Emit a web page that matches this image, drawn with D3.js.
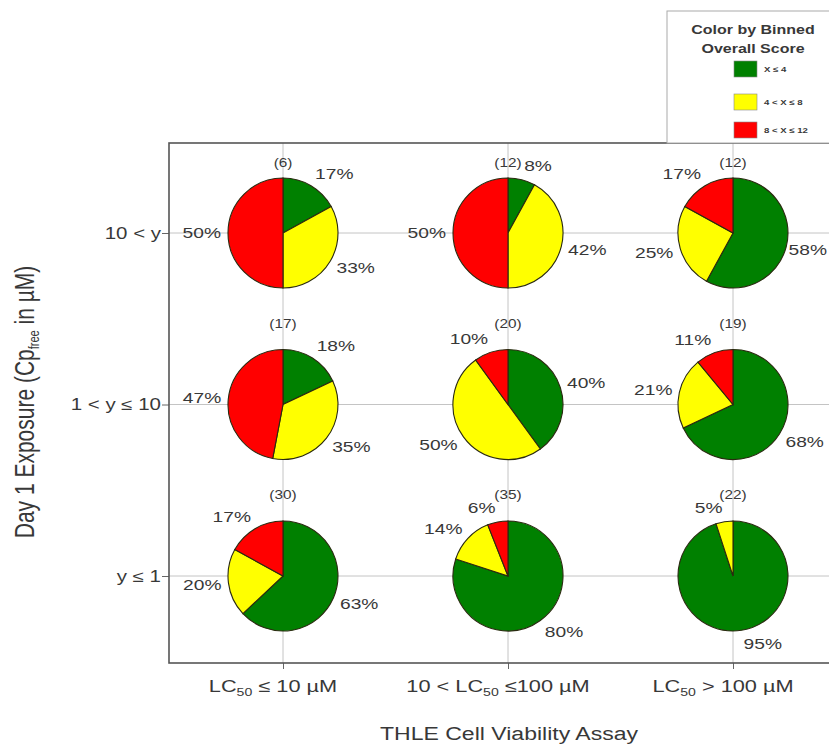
<!DOCTYPE html>
<html>
<head>
<meta charset="utf-8">
<script src="https://cdn.jsdelivr.net/npm/d3@7"></script>
<style>
  html, body { margin: 0; padding: 0; background: #fff; }
  svg { display: block; font-family: Arial, "Liberation Sans", sans-serif; }
</style>
</head>
<body>
<svg id="chart" width="829" height="745"></svg>
<script>
// ---------------- data ----------------
const colLabels = ["LC50 \u2264 10 \u00b5M", "10 < LC50 \u2264100 \u00b5M", "LC50 > 100 \u00b5M"];
const rowLabels = ["10 < y", "1 < y \u2264 10", "y \u2264 1"];
const counts    = [[6, 12, 12], [17, 20, 19], [30, 35, 22]];
const pctGreen  = [[17, 8, 58], [18, 40, 68], [63, 80, 95]];
const pctYellow = [[33, 42, 25], [35, 50, 21], [20, 14, 5]];
const pctRed    = [[50, 50, 17], [47, 10, 11], [17, 6, 0]];
const legendLabels = ["X \u2264 4", "4 < X \u2264 8", "8 < X \u2264 12"];
const binColors = ["#008000", "#ffff00", "#ff0000"];
const legendTitle = ["Color by Binned", "Overall Score"];
const xTitle = "THLE Cell Viability Assay";

// ---------------- layout ----------------
const SX = 1.28;           // horizontal stretch of the reference text
const TXT = "#383838";
const frame = {left: 169, top: 143, right: 845, bottom: 663};
const R = 55;

const svg = d3.select("#chart");
const x = d3.scalePoint().domain(colLabels).range([283, 733]);
const y = d3.scalePoint().domain(rowLabels).range([233, 576]);

function stext(g, px, py, str, size, anchor, weight) {
  return g.append("text")
    .attr("transform", `translate(${px},${py}) scale(${SX},1)`)
    .attr("text-anchor", anchor || "middle")
    .attr("dy", "0.35em")
    .attr("font-size", size)
    .attr("font-weight", weight || "normal")
    .attr("fill", TXT)
    .text(str);
}

// grid lines
const grid = svg.append("g");
grid.selectAll("line.h").data(rowLabels).join("line")
  .attr("x1", frame.left).attr("x2", frame.right)
  .attr("y1", d => y(d)).attr("y2", d => y(d))
  .attr("stroke", "#c4c4c4").attr("stroke-width", 1);
grid.selectAll("line.v").data(colLabels).join("line")
  .attr("x1", d => x(d)).attr("x2", d => x(d))
  .attr("y1", frame.top).attr("y2", frame.bottom)
  .attr("stroke", "#c4c4c4").attr("stroke-width", 1);

// axes (ticks only, labels drawn separately to allow subscripts)
const yAxis = svg.append("g").attr("transform", `translate(${frame.left},0)`)
  .call(d3.axisLeft(y).tickSize(7).tickFormat(""));
yAxis.select(".domain").remove();
yAxis.selectAll("line").attr("stroke", "#666");
const xAxis = svg.append("g").attr("transform", `translate(0,${frame.bottom})`)
  .call(d3.axisBottom(x).tickSize(6).tickFormat(""));
xAxis.select(".domain").remove();
xAxis.selectAll("line").attr("stroke", "#666");

// frame
svg.append("rect")
  .attr("x", frame.left).attr("y", frame.top)
  .attr("width", frame.right - frame.left).attr("height", frame.bottom - frame.top)
  .attr("fill", "none").attr("stroke", "#555").attr("stroke-width", 1.6);

// y tick labels
rowLabels.forEach(r => stext(svg, 161, y(r), r, 16, "end"));

// x tick labels with subscript 50
colLabels.forEach(c => {
  const parts = c.split("LC50");
  const t = svg.append("text")
    .attr("transform", `translate(${x(c) - 10},692) scale(${SX},1)`)
    .attr("text-anchor", "middle").attr("font-size", 17).attr("fill", TXT);
  if (parts[0]) t.append("tspan").text(parts[0]);
  t.append("tspan").text("LC");
  t.append("tspan").attr("font-size", 11).attr("dy", 4).text("50");
  t.append("tspan").attr("dy", -4).text(parts[1]);
});

// axis titles
stext(svg, 509, 734, xTitle, 18, "middle");
const yt = svg.append("text")
  .attr("transform", `translate(34,402) scale(${SX},1) rotate(-90)`)
  .attr("text-anchor", "middle").attr("font-size", 21).attr("fill", TXT);
yt.append("tspan").text("Day 1 Exposure (Cp");
yt.append("tspan").attr("font-size", 11).attr("dy", 4).text("free");
yt.append("tspan").attr("dy", -4).text(" in \u00b5M)");

// pies
const pie = d3.pie().sort(null).value(d => d.v);
const arc = d3.arc().innerRadius(0).outerRadius(R);
rowLabels.forEach((r, i) => {
  colLabels.forEach((c, j) => {
    const cx = x(c), cy = y(r);
    const data = [
      {v: pctGreen[i][j], col: binColors[0]},
      {v: pctYellow[i][j], col: binColors[1]},
      {v: pctRed[i][j], col: binColors[2]}
    ];
    const g = svg.append("g").attr("transform", `translate(${cx},${cy})`);
    const arcs = pie(data);
    g.selectAll("path").data(arcs.filter(a => a.data.v > 0)).join("path")
      .attr("d", arc).attr("fill", d => d.data.col)
      .attr("stroke", "#2a2a10").attr("stroke-width", 1.1);
    // percent labels
    arcs.filter(a => a.data.v > 0).forEach(a => {
      const th = (a.startAngle + a.endAngle) / 2;
      const s = Math.sin(th), co = Math.cos(th);
      let px = cx + (R + 6) * s, py = cy - (R + 6) * co - co * 8;
      let anchor = "middle";
      if (s > 0.15) { anchor = "start"; px += 1; }
      else if (s < -0.15) { anchor = "end"; px -= 1; }
      const t = stext(svg, px, py, a.data.v + "%", 15, anchor);
      if (anchor === "start") {
        const w = t.node().getBBox().width * SX;
        if (px + w > 827) t.attr("transform", `translate(${827 - w},${py}) scale(${SX},1)`);
      }
    });
    // count label
    stext(svg, cx, Math.max(cy - R - 26, frame.top + 20), "(" + counts[i][j] + ")", 12, "middle");
  });
});

// legend
const lg = svg.append("g");
lg.append("rect").attr("x", 667).attr("y", 11).attr("width", 190).attr("height", 132)
  .attr("fill", "#fff").attr("stroke", "#aaa").attr("stroke-width", 1);
legendTitle.forEach((t, k) => stext(lg, 753, 30 + k * 19, t, 12.5, "middle", "bold"));
const legY = [69, 102, 130];
legendLabels.forEach((l, k) => {
  lg.append("rect").attr("x", 734).attr("y", legY[k] - 8).attr("width", 23).attr("height", 16)
    .attr("fill", binColors[k]).attr("stroke", "#888").attr("stroke-width", 0.6);
  stext(lg, 764, legY[k], l, 7.5, "start", "bold");
});
</script>
</body>
</html>
